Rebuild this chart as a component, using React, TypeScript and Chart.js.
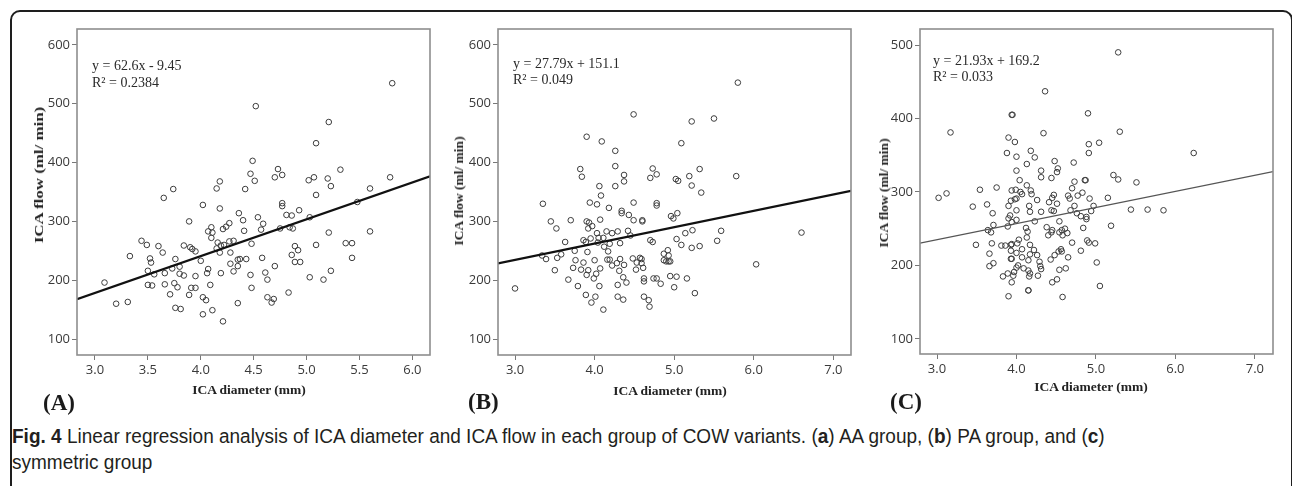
import React, { useEffect, useRef } from "react";
import { Chart, registerables } from "chart.js";

Chart.register(...registerables);

// ---------- Panel A (AA group) ----------
const aDiameter = [
  5.81, 4.52, 5.21, 5.09, 4.49, 4.73, 5.32, 4.47, 4.70, 4.77, 4.51, 4.18, 5.02, 5.07, 5.20, 5.79, 5.23, 4.15, 4.42, 5.60,
  3.74, 3.65, 5.09, 4.02, 4.77, 4.77, 5.48, 4.18, 4.36, 4.81, 4.86, 4.93, 4.54, 5.03, 4.40, 3.89, 4.59, 4.27, 4.24, 4.21,
  4.10, 4.07, 4.11, 4.10, 4.41, 4.57, 4.75, 4.84, 4.87, 5.21, 5.60, 3.44, 3.49, 3.60, 3.84, 3.90, 3.92, 3.95, 3.64, 4.16,
  4.19, 4.15, 4.18, 4.27, 4.31, 4.22, 4.28, 4.48, 4.89, 4.92, 4.86, 5.09, 5.37, 5.43, 5.43, 3.33, 3.52, 3.53, 3.76, 4.00,
  4.28, 4.37, 4.35, 4.43, 4.58, 4.89, 4.94, 3.50, 3.56, 3.66, 3.73, 3.80, 3.80, 3.84, 3.95, 4.07, 4.06, 4.19, 4.31, 4.35,
  4.47, 4.61, 4.63, 4.70, 5.03, 5.16, 5.23, 3.09, 3.50, 3.54, 3.66, 3.75, 3.78, 3.91, 3.95, 4.09, 4.48, 3.71, 3.89, 4.02,
  4.05, 3.20, 3.31, 3.76, 3.81, 4.02, 4.11, 4.21, 4.35, 4.63, 4.67, 4.69, 4.83,
];
const aFlow = [
  535, 496, 469, 433, 403, 389, 388, 381, 375, 379, 369, 368, 370, 375, 373, 375, 360, 356, 355, 356,
  355, 340, 345, 328, 331, 326, 333, 322, 314, 311, 310, 319, 307, 307, 302, 300, 296, 297, 291, 287,
  290, 283, 281, 272, 284, 286, 288, 290, 288, 281, 283, 267, 260, 258, 259, 256, 253, 249, 247, 264,
  259, 254, 247, 266, 267, 260, 247, 262, 258, 251, 243, 260, 263, 263, 238, 241, 237, 230, 236, 233,
  228, 236, 235, 236, 238, 231, 231, 216, 210, 212, 220, 223, 211, 208, 207, 219, 212, 212, 215, 224,
  209, 213, 201, 224, 205, 201, 216, 196, 192, 191, 193, 195, 188, 187, 187, 192, 187, 176, 175, 171,
  166, 160, 163, 153, 151, 142, 149, 130, 161, 171, 162, 168, 179,
];
const aSlope = 62.6;
const aIntercept = -9.45;
const aXTicks = [3.0, 3.5, 4.0, 4.5, 5.0, 5.5, 6.0];

// ---------- Panel B (PA group) ----------
const bDiameter = [
  5.80, 4.49, 5.22, 5.50, 3.90, 4.09, 4.26, 5.09, 4.26, 3.82, 3.84, 4.37, 4.37, 4.70, 4.73, 4.78, 5.02, 5.05, 5.19, 5.32,
  5.78, 4.06, 4.26, 5.22, 5.34, 4.08, 3.94, 4.03, 4.49, 4.78, 4.78, 4.18, 3.35, 4.34, 4.34, 4.43, 4.49, 4.60, 4.60, 4.96,
  4.99, 5.04, 3.45, 3.70, 3.52, 3.90, 3.93, 3.97, 4.07, 3.92, 4.03, 4.15, 4.22, 4.29, 4.42, 4.45, 3.63, 3.86, 3.89, 3.95,
  4.05, 4.11, 4.04, 4.12, 4.19, 4.32, 4.70, 4.73, 5.03, 5.09, 5.14, 5.23, 5.22, 5.32, 5.54, 5.59, 6.60, 3.34, 3.39, 3.53,
  3.58, 3.75, 3.76, 3.86, 4.00, 3.91, 4.17, 4.16, 4.19, 4.22, 4.28, 4.32, 4.37, 4.48, 4.53, 4.57, 4.59, 4.59, 4.61, 4.87,
  4.92, 4.93, 4.87, 4.90, 4.93, 4.95, 6.03, 3.50, 3.73, 3.83, 3.92, 4.07, 3.90, 4.31, 4.52, 3.67, 3.99, 4.02, 4.06, 4.36,
  4.40, 4.29, 4.62, 4.62, 4.74, 4.78, 4.83, 4.95, 5.03, 5.16, 5.00, 3.79, 3.00, 3.89, 4.01, 4.29, 4.36, 4.62, 4.68, 4.69,
  3.96, 4.11, 5.26,
];
const bFlow = [
  536, 482, 470, 475, 444, 436, 420, 433, 394, 389, 376, 379, 368, 374, 390, 380, 372, 369, 377, 389,
  377, 360, 360, 361, 349, 344, 332, 329, 332, 331, 327, 323, 330, 318, 314, 311, 302, 302, 300, 309,
  305, 314, 300, 302, 288, 300, 298, 292, 303, 288, 280, 283, 280, 283, 284, 276, 265, 268, 265, 271,
  272, 272, 264, 257, 262, 263, 268, 265, 270, 260, 280, 285, 255, 258, 267, 284, 281, 242, 236, 238,
  244, 250, 234, 230, 234, 248, 249, 235, 235, 225, 229, 236, 226, 237, 230, 238, 229, 236, 221, 245,
  251, 242, 234, 232, 232, 232, 227, 217, 221, 218, 217, 220, 209, 216, 218, 201, 203, 211, 190, 205,
  196, 192, 203, 198, 203, 203, 194, 207, 206, 203, 188, 190, 186, 175, 172, 172, 167, 172, 166, 155,
  162, 150, 178,
];
const bSlope = 27.79;
const bIntercept = 151.1;
const bXTicks = [3.0, 4.0, 5.0, 6.0, 7.0];

// ---------- Panel C (symmetric group) ----------
const cDiameter = [
  5.28, 4.36, 3.94, 3.95, 4.90, 3.17, 4.34, 5.30, 3.90, 3.98, 4.91, 5.04, 3.88, 4.00, 4.18, 4.23, 4.91, 6.23, 4.13, 4.48,
  4.00, 4.31, 4.52, 4.51, 4.31, 4.44, 4.72, 4.04, 4.86, 4.87, 5.22, 5.28, 5.51, 3.02, 3.12, 3.54, 3.75, 3.45, 3.63, 3.70,
  3.71, 3.94, 3.99, 4.00, 3.98, 3.93, 3.90, 4.05, 4.07, 4.13, 4.18, 4.19, 4.26, 4.16, 4.00, 3.92, 3.90, 3.94, 4.00, 3.89,
  4.17, 4.31, 4.23, 4.41, 4.45, 4.47, 4.44, 4.47, 4.51, 4.65, 4.67, 4.70, 4.73, 4.77, 4.83, 4.73, 4.68, 4.76, 4.81, 4.88,
  4.88, 4.92, 4.94, 4.97, 4.84, 5.15, 5.19, 5.44, 5.65, 5.85, 4.54, 4.38, 4.45, 4.44, 4.40, 4.57, 4.54, 4.64, 4.58, 3.64,
  3.68, 3.69, 3.49, 3.66, 3.66, 3.71, 3.81, 3.86, 3.93, 3.94, 4.01, 4.03, 4.12, 4.14, 4.13, 4.17, 4.07, 4.00, 3.93, 3.93,
  3.94, 4.07, 4.02, 4.00, 3.97, 3.89, 3.83, 3.96, 3.94, 3.90, 4.09, 4.15, 4.17, 4.16, 4.15, 4.15, 4.27, 4.31, 4.30, 4.29,
  4.26, 4.22, 4.17, 4.15, 4.43, 4.48, 4.53, 4.56, 4.57, 4.65, 4.70, 4.81, 4.89, 4.91, 4.99, 5.01, 5.05, 4.54, 4.62, 4.51,
  4.45, 4.58, 4.61,
];
const cFlow = [
  490, 437, 405, 405, 407, 381, 380, 382, 374, 368, 365, 367, 353, 348, 356, 347, 353, 353, 338, 342,
  329, 329, 332, 327, 320, 319, 340, 316, 316, 316, 323, 317, 313, 292, 298, 303, 306, 280, 283, 271,
  255, 302, 303, 291, 290, 288, 281, 300, 297, 309, 302, 297, 289, 281, 275, 268, 264, 259, 262, 253,
  273, 273, 260, 286, 292, 296, 275, 274, 284, 295, 291, 305, 314, 295, 299, 281, 275, 271, 267, 266,
  263, 291, 274, 281, 251, 292, 254, 276, 276, 275, 260, 252, 248, 245, 241, 248, 245, 244, 241, 248,
  245, 230, 228, 216, 199, 203, 227, 227, 228, 229, 230, 235, 251, 246, 238, 228, 222, 217, 220, 209,
  209, 211, 200, 197, 191, 189, 185, 186, 177, 158, 196, 193, 189, 185, 166, 166, 186, 195, 199, 205,
  214, 221, 215, 207, 208, 214, 219, 222, 219, 211, 231, 220, 234, 231, 230, 204, 172, 194, 196, 181,
  177, 157, 250,
];
const cSlope = 21.93;
const cIntercept = 169.2;
const cXTicks = [3.0, 4.0, 5.0, 6.0, 7.0];

const abYTicks = [100, 200, 300, 400, 500, 600];
const cYTicks = [100, 200, 300, 400, 500];

const yTitle = "ICA flow (ml/ min)";
const xTitle = "ICA diameter (mm)";

type PanelSpec = {
  label: string;
  xs: number[];
  ys: number[];
  slope: number;
  intercept: number;
  xTicks: number[];
  yTicks: number[];
  xMin: number;
  xMax: number;
  yMin: number;
  yMax: number;
  eq: string;
  r2: string;
  lineColor: string;
  lineWidth: number;
  canvasLeft: number;
  canvasTop: number;
  canvasW: number;
  canvasH: number;
  xAxisH: number;
  eqLeft: number;
  eqTop: number;
  yTitleX: number;
  yTitleY: number;
  yTitleStretch: number;
  xTitleX: number;
  xTitleY: number;
  labelLeft: number;
  labelY: number;
};

const panels: PanelSpec[] = [
  {
    label: "(A)", xs: aDiameter, ys: aFlow, slope: aSlope, intercept: aIntercept,
    xTicks: aXTicks, yTicks: abYTicks, xMin: 2.83, xMax: 6.167, yMin: 72.8, yMax: 627.2,
    eq: "y = 62.6x - 9.45", r2: "R² = 0.2384", lineColor: "#111", lineWidth: 2.2,
    canvasLeft: 20, canvasTop: 20, canvasW: 420, canvasH: 380, xAxisH: 45,
    eqLeft: 92, eqTop: 58, yTitleX: 38.5, yTitleY: 175, yTitleStretch: 1.25,
    xTitleX: 249, xTitleY: 390, labelLeft: 43, labelY: 403,
  },
  {
    label: "(B)", xs: bDiameter, ys: bFlow, slope: bSlope, intercept: bIntercept,
    xTicks: bXTicks, yTicks: abYTicks, xMin: 2.786, xMax: 7.222, yMin: 72.8, yMax: 627.2,
    eq: "y = 27.79x + 151.1", r2: "R² = 0.049", lineColor: "#111", lineWidth: 2.2,
    canvasLeft: 441, canvasTop: 20, canvasW: 420, canvasH: 380, xAxisH: 45,
    eqLeft: 513, eqTop: 55.5, yTitleX: 458.5, yTitleY: 191, yTitleStretch: 1,
    xTitleX: 670, xTitleY: 391, labelLeft: 468, labelY: 402,
  },
  {
    label: "(C)", xs: cDiameter, ys: cFlow, slope: cSlope, intercept: cIntercept,
    xTicks: cXTicks, yTicks: cYTicks, xMin: 2.786, xMax: 7.228, yMin: 79.4, yMax: 521.8,
    eq: "y = 21.93x + 169.2", r2: "R² = 0.033", lineColor: "#555", lineWidth: 1.2,
    canvasLeft: 863, canvasTop: 20, canvasW: 420, canvasH: 380, xAxisH: 46,
    eqLeft: 933, eqTop: 52.5, yTitleX: 883.5, yTitleY: 193, yTitleStretch: 1,
    xTitleX: 1091, xTitleY: 387, labelLeft: 890, labelY: 402,
  },
];

const PLOT_TOP_PAD = 9;
const Y_AXIS_W = 57;
const RIGHT_PAD = 10;

const framePlugin = {
  id: "plotFrame",
  afterDatasetsDraw(chart: any) {
    const { ctx, chartArea: a } = chart;
    ctx.save();
    ctx.strokeStyle = "#8e8e8e";
    ctx.lineWidth = 1.6;
    ctx.strokeRect(a.left, a.top, a.right - a.left, a.bottom - a.top);
    ctx.restore();
  },
};

function Panel({ p }: { p: PanelSpec }) {
  const ref = useRef<HTMLCanvasElement>(null);
  useEffect(() => {
    if (!ref.current) return;
    const tickFont = { family: "'Open Sans', 'DejaVu Sans', sans-serif", size: 13 };
    const chart = new Chart(ref.current, {
      type: "scatter",
      data: {
        datasets: [
          {
            data: [
              { x: p.xMin, y: p.slope * p.xMin + p.intercept },
              { x: p.xMax, y: p.slope * p.xMax + p.intercept },
            ],
            showLine: true,
            borderColor: p.lineColor,
            borderWidth: p.lineWidth,
            pointRadius: 0,
            fill: false,
          } as any,
          {
            data: p.xs.map((x, i) => ({ x, y: p.ys[i] })),
            pointRadius: 2.8,
            pointBorderWidth: 1,
            borderColor: "#3c3c3c",
            backgroundColor: "rgba(0,0,0,0)",
            pointStyle: "circle",
          } as any,
        ],
      },
      options: {
        responsive: false,
        animation: false,
        events: [],
        layout: { padding: { top: PLOT_TOP_PAD, right: RIGHT_PAD, left: 0, bottom: 0 } },
        plugins: { legend: { display: false }, tooltip: { enabled: false } },
        scales: {
          x: {
            type: "linear",
            min: p.xMin,
            max: p.xMax,
            afterBuildTicks: (s: any) => {
              s.ticks = p.xTicks.map((v) => ({ value: v }));
            },
            afterFit: (s: any) => {
              s.height = p.xAxisH;
              s.paddingLeft = 0;
              s.paddingRight = 0;
            },
            ticks: {
              callback: (v: any) => Number(v).toFixed(1),
              font: tickFont,
              color: "#3a3a3a",
              padding: 2,
              maxRotation: 0,
              autoSkip: false,
            },
            grid: { drawOnChartArea: false, drawTicks: true, tickLength: 5, color: "#777" },
            border: { display: false },
          },
          y: {
            type: "linear",
            min: p.yMin,
            max: p.yMax,
            afterBuildTicks: (s: any) => {
              s.ticks = p.yTicks.map((v) => ({ value: v }));
            },
            afterFit: (s: any) => {
              s.width = Y_AXIS_W;
              s.paddingTop = 0;
              s.paddingBottom = 0;
            },
            ticks: {
              callback: (v: any) => String(v),
              font: tickFont,
              color: "#3a3a3a",
              padding: 2,
              autoSkip: false,
            },
            grid: { drawOnChartArea: false, drawTicks: true, tickLength: 5, color: "#777" },
            border: { display: false },
          },
        },
      } as any,
      plugins: [framePlugin],
    });
    return () => chart.destroy();
  }, [p]);

  const serif = "'Liberation Serif', 'Times New Roman', serif";
  return (
    <>
      <canvas
        ref={ref}
        width={p.canvasW}
        height={p.canvasH}
        style={{ position: "absolute", left: p.canvasLeft, top: p.canvasTop, width: p.canvasW, height: p.canvasH }}
      />
      <div
        style={{
          position: "absolute", left: p.eqLeft, top: p.eqTop, fontFamily: serif, fontSize: 14,
          lineHeight: "16.7px", color: "#2a2a2a", whiteSpace: "nowrap",
        }}
      >
        <div>{p.eq}</div>
        <div>{p.r2}</div>
      </div>
      <div
        style={{
          position: "absolute", left: p.yTitleX, top: p.yTitleY, fontFamily: serif, fontWeight: "bold",
          fontSize: 13.5, lineHeight: "16px", color: "#222", whiteSpace: "nowrap",
          transform: `translate(-50%, -50%) rotate(-90deg) scaleX(${p.yTitleStretch})`,
        }}
      >
        {yTitle}
      </div>
      <div
        style={{
          position: "absolute", left: p.xTitleX, top: p.xTitleY, fontFamily: serif, fontWeight: "bold",
          fontSize: 13.5, lineHeight: "16px", color: "#222", whiteSpace: "nowrap",
          transform: "translate(-50%, -50%)",
        }}
      >
        {xTitle}
      </div>
      <div
        style={{
          position: "absolute", left: p.labelLeft, top: p.labelY, fontFamily: serif, fontWeight: "bold",
          fontSize: 23, lineHeight: "26px", color: "#1a1a1a", whiteSpace: "nowrap",
          transform: "translateY(-50%)",
        }}
      >
        {p.label}
      </div>
    </>
  );
}

export default function App() {
  const captionFont = "'Liberation Sans', Arial, sans-serif";
  return (
    <div
      style={{
        position: "absolute", left: 0, top: 0, width: 1292, height: 486, overflow: "hidden", background: "#fff",
      }}
    >
      <div
        style={{
          position: "absolute", left: 10, top: 10, width: 1283, height: 520, boxSizing: "border-box",
          border: "2px solid #1e1e1e", borderRadius: 10,
        }}
      />
      {panels.map((p) => (
        <Panel key={p.label} p={p} />
      ))}
      <div
        style={{
          position: "absolute", left: 12, top: 423, fontFamily: captionFont, fontSize: 20, lineHeight: "26px",
          color: "#231f20", whiteSpace: "nowrap", transform: "scaleX(0.95)", transformOrigin: "0 0",
        }}
      >
        <b>Fig. 4</b> Linear regression analysis of ICA diameter and ICA flow in each group of COW variants. (<b>a</b>) AA group, (<b>b</b>) PA group, and (<b>c</b>)
        <br />
        symmetric group
      </div>
    </div>
  );
}
